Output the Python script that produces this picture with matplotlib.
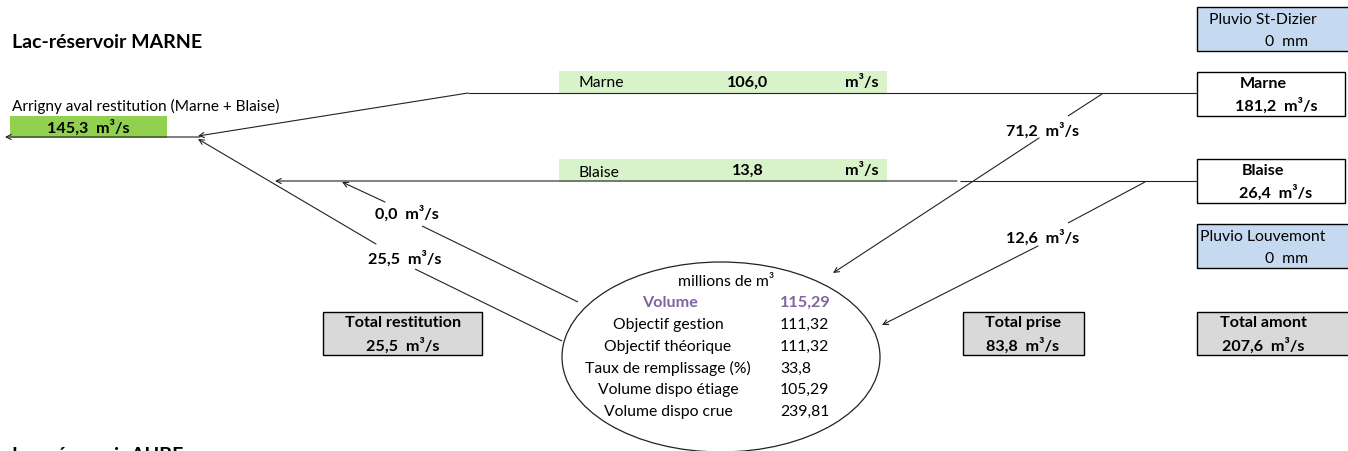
import matplotlib
matplotlib.use("Agg")
import matplotlib.pyplot as plt
from matplotlib.patches import Rectangle, Ellipse

plt.rcParams['font.family'] = ['Lato', 'DejaVu Sans']

# ---------------- data ----------------
title_top = "Lac-réservoir MARNE"
title_bottom = "Lac-réservoir AUBE"
aval_label = "Arrigny aval restitution (Marne + Blaise)"
aval_flow = 145.3
river_names = ["Marne", "Blaise"]
river_downstream = [106.0, 13.8]      # débit aval (green bands)
river_upstream = [181.2, 26.4]        # débit amont (right boxes)
prise_flows = [71.2, 12.6]            # prises vers le lac
restit_flows = [0.0, 25.5]            # restitutions
total_restitution = 25.5
total_prise = 83.8
total_amont = 207.6
pluvio_names = ["Pluvio St-Dizier", "Pluvio Louvemont"]
pluvio_mm = [0, 0]
lake_unit = "millions de m³"
lake_labels = ["Volume", "Objectif gestion", "Objectif théorique",
               "Taux de remplissage (%)", "Volume dispo étiage", "Volume dispo crue"]
lake_values = ["115,29", "111,32", "111,32", "33,8", "105,29", "239,81"]


def fmt(v):
    return f"{v:.1f}".replace(".", ",")


W, H = 1348, 452
fig = plt.figure(figsize=(W / 100, H / 100), dpi=100)
ax = fig.add_axes([0, 0, 1, 1])
ax.set_xlim(0, W)
ax.set_ylim(H, 0)
ax.axis("off")

FS = 11.3     # regular text
FB = 11.6     # bold text
FT = 14       # titles
LC = "#222222"
GREEN = "#92D050"
LGREEN = "#D8F2C9"
BLUE = "#C5D9F1"
GREY = "#D9D9D9"
PURPLE = "#8064A2"


def line(x0, y0, x1, y1, lw=0.8):
    ax.plot([x0, x1], [y0, y1], color=LC, lw=lw, solid_capstyle="butt")


def arrow(x0, y0, x1, y1):
    ax.annotate("", xy=(x1, y1), xytext=(x0, y0),
                arrowprops=dict(arrowstyle="->", color=LC, lw=0.8,
                                mutation_scale=9, shrinkA=0, shrinkB=0))


def box(x, y, w, h, fc, ec="black", lw=1.0):
    ax.add_patch(Rectangle((x, y), w, h, facecolor=fc, edgecolor=ec, lw=lw))


# titles
ax.text(12, 43, title_top, fontsize=FT, fontweight="bold", va="center", ha="left")
ax.text(12, 456, title_bottom, fontsize=FT, fontweight="bold", va="center", ha="left")

# downstream Arrigny
ax.text(12, 106, aval_label, fontsize=FS * 0.98, va="center", ha="left")
box(10, 117, 157, 22, GREEN, ec="none")
ax.text(88, 128, f"{fmt(aval_flow)}  m³/s", fontsize=FB, fontweight="bold",
        va="center", ha="center")
arrow(200, 138, 5, 138)

# green bands
for yb, name, val, yo in [(72, river_names[0], river_downstream[0], 0),
                          (160, river_names[1], river_downstream[1], 2)]:
    box(559, yb, 328, 23, LGREEN, ec="none")
    ax.text(578, yb + 11 + yo, name, fontsize=FS, va="center", ha="left")
    ax.text(748, yb + 11, fmt(val), fontsize=FB, fontweight="bold", va="center", ha="center")
    ax.text(879, yb + 11, "m³/s", fontsize=FB, fontweight="bold", va="center", ha="right")

# Marne main line
line(468, 94, 1197, 94)
arrow(468, 94, 198, 137)
# Blaise main line
line(960, 182, 1197, 182)
arrow(957, 182, 275, 182)

# right boxes (upstream)
for yb, name, val in [(73, river_names[0], river_upstream[0]),
                      (160, river_names[1], river_upstream[1])]:
    box(1197, yb, 148, 44, "white")
    ax.text(1263, yb + 11, name, fontsize=FB, fontweight="bold", va="center", ha="center")
    ax.text(1276, yb + 33, f"{fmt(val)}  m³/s", fontsize=FB, fontweight="bold",
            va="center", ha="center")

for yb, name, val in [(8, pluvio_names[0], pluvio_mm[0]),
                      (225, pluvio_names[1], pluvio_mm[1])]:
    box(1197, yb, 152, 44, BLUE)
    ax.text(1263, yb + 12, name, fontsize=FS, va="center", ha="center")
    ax.text(1287, yb + 34, f"{val}  mm", fontsize=FS, va="center", ha="center")

# totals
for xb, wb, cx, name, val in [(323, 159, 403, "Total restitution", total_restitution),
                              (963, 121, 1023, "Total prise", total_prise),
                              (1197, 152, 1263, "Total amont", total_amont)]:
    box(xb, 313, wb, 43, GREY)
    ax.text(cx, 323, name, fontsize=FB, fontweight="bold", va="center", ha="center")
    ax.text(cx, 346, f"{fmt(val)}  m³/s", fontsize=FB, fontweight="bold",
            va="center", ha="center")

# prises (upstream -> lake)
line(1102, 95, 1068, 117)
ax.text(1043, 131, f"{fmt(prise_flows[0])}  m³/s", fontsize=FB, fontweight="bold",
        va="center", ha="center")
arrow(1039, 139, 833, 274)
line(1145, 183, 1068, 224)
ax.text(1043, 238, f"{fmt(prise_flows[1])}  m³/s", fontsize=FB, fontweight="bold",
        va="center", ha="center")
arrow(1038, 247, 882, 326)

# restitutions (lake -> rivers)
line(578, 303, 422, 227)
ax.text(407, 214, f"{fmt(restit_flows[0])}  m³/s", fontsize=FB, fontweight="bold",
        va="center", ha="center")
arrow(385, 203, 342, 183)
line(562, 342, 415, 270)
ax.text(405, 259, f"{fmt(restit_flows[1])}  m³/s", fontsize=FB, fontweight="bold",
        va="center", ha="center")
arrow(376, 245, 198, 140)

# lake ellipse
ax.add_patch(Ellipse((721, 358), 318, 190, facecolor="none", edgecolor=LC, lw=0.9))
ax.text(726, 282, lake_unit, fontsize=FS, va="center", ha="center")
for i, (lab, val) in enumerate(zip(lake_labels, lake_values)):
    y = 303 + i * 21.8
    if i == 0:
        ax.text(670, y, lab, fontsize=FB, fontweight="bold", color=PURPLE, va="center", ha="center")
        ax.text(780, y, val, fontsize=FB, fontweight="bold", color=PURPLE, va="center", ha="left")
    else:
        ax.text(668, y, lab, fontsize=FS, va="center", ha="center")
        ax.text(780, y, val, fontsize=FS, va="center", ha="left")

fig.savefig("out.png", dpi=100)
